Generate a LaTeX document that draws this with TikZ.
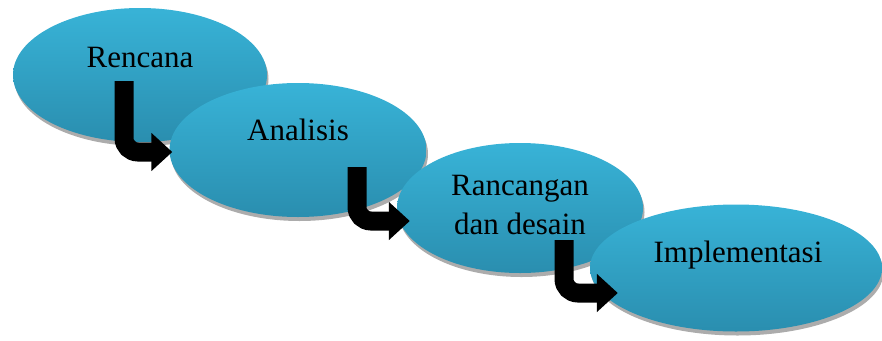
\documentclass[tikz,border=0pt]{standalone}
\usepackage{fontspec}
\setmainfont{Liberation Serif}
\usepackage{tikz}
\usetikzlibrary{arrows.meta,positioning,shapes.geometric,shadows}
\definecolor{phasetop}{HTML}{38B3D7}
\definecolor{phasebot}{HTML}{2A8EAF}

\begin{document}
\begin{tikzpicture}[
    x=1pt, y=-1pt,
    phase/.style={ellipse, top color=phasetop, bottom color=phasebot, draw=none,
        drop shadow={shadow xshift=1.5pt, shadow yshift=-4pt, fill=gray!65, opacity=1}},
    phasetext/.style={font=\fontsize{31}{39}\selectfont, align=center, inner sep=0pt},
    flow/.style={line width=19pt, rounded corners=14pt, line cap=butt,
        -{Triangle[length=21pt,width=37pt]}}
]
\useasboundingbox (0,0) rectangle (882,340);

% Phases
\node[phase, minimum width=254pt, minimum height=134pt] (rencana) at (140,75) {};
\node[phase, minimum width=257pt, minimum height=134pt] (analisis) at (298,150) {};
\node[phase, minimum width=246pt, minimum height=130pt] (rancangan) at (520,208) {};
\node[phase, minimum width=292pt, minimum height=127pt] (implementasi) at (736,268) {};

% Labels
\node[phasetext, anchor=base] (rencana-t) at (140,67) {Rencana};
\node[phasetext, anchor=base] (analisis-t) at (298,140) {Analisis};
\node[phasetext, anchor=base] (rancangan-t) at (520,234) {Rancangan\\dan desain};
\node[phasetext, anchor=base] (implementasi-t) at (738,262) {Implementasi};

% Arrows
\coordinate (a1) at (124,81);
\coordinate (a2) at (357,167);
\coordinate (a3) at (564,240);
\draw[flow] (a1) |- ([shift={(3,2)}]analisis.west);
\draw[flow] (a2) |- ([shift={(13,13)}]rancangan.west);
\draw[flow] (a3) |- ([shift={(28,25)}]implementasi.west);

\end{tikzpicture}
\end{document}
